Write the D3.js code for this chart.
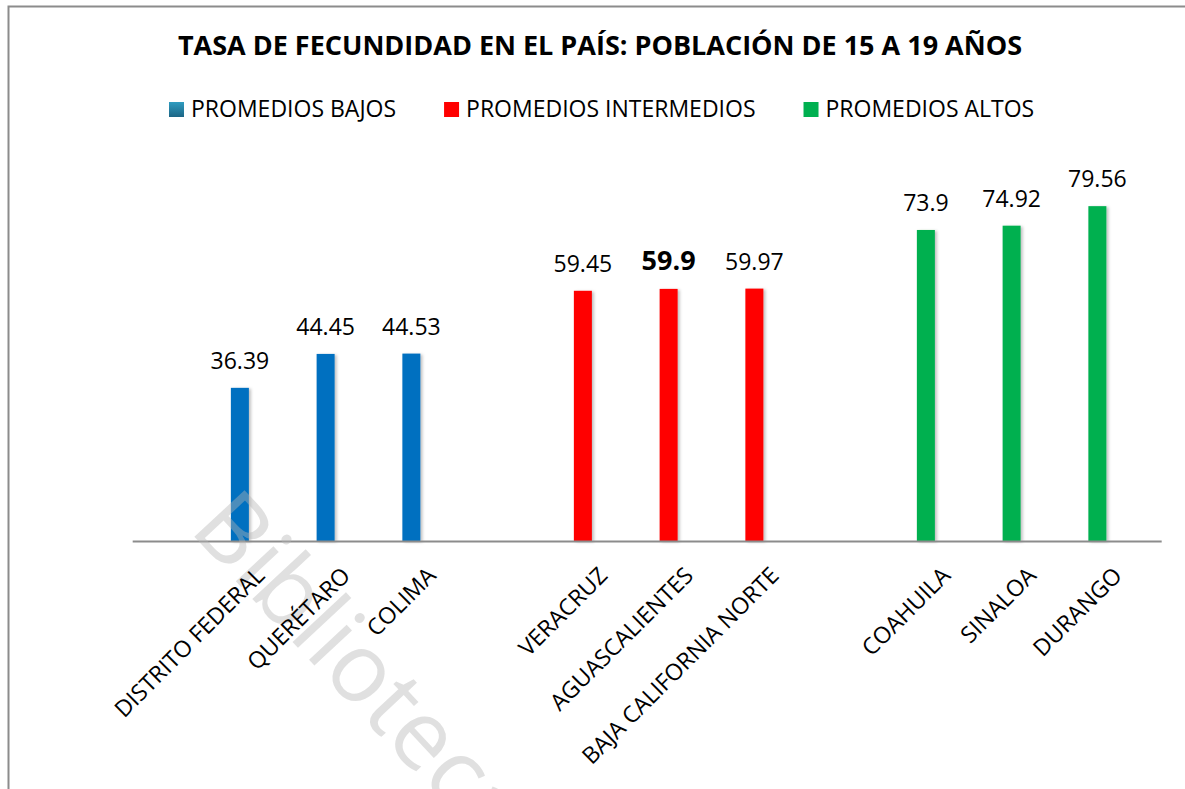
<!DOCTYPE html>
<html>
<head>
<meta charset="utf-8">
<script src="https://cdn.jsdelivr.net/npm/d3@7"></script>
<style>
    body { margin: 0; background: #fff; }
    svg { display: block; font-family: "Open Sans", sans-serif; }
</style>
</head>
<body>
<svg id="chart"></svg>
<script>
// Datos del gráfico
const estados = ["DISTRITO FEDERAL", "QUERÉTARO", "COLIMA",
                 "VERACRUZ", "AGUASCALIENTES", "BAJA CALIFORNIA NORTE",
                 "COAHUILA", "SINALOA", "DURANGO"];
const tasas = [36.39, 44.45, 44.53, 59.45, 59.9, 59.97, 73.9, 74.92, 79.56];
const grupoDeEstado = [0, 0, 0, 1, 1, 1, 2, 2, 2];
const grupos = ["PROMEDIOS BAJOS", "PROMEDIOS INTERMEDIOS", "PROMEDIOS ALTOS"];
const coloresGrupo = ["#0070C0", "#FF0000", "#00B050"];
const destacado = "AGUASCALIENTES";
const titulo = "TASA DE FECUNDIDAD EN EL PAÍS: POBLACIÓN DE 15 A 19 AÑOS";

document.addEventListener("DOMContentLoaded", () => {
    const width = 1185, height = 789;

    const svg = d3.select("#chart")
        .attr("width", width)
        .attr("height", height);

    svg.append("rect")
        .attr("width", width)
        .attr("height", height)
        .attr("fill", "#fff");

    const defs = svg.append("defs");

    // Sombra suave de las barras
    const sombra = defs.append("filter")
        .attr("id", "sombra")
        .attr("x", "-50%").attr("y", "-10%")
        .attr("width", "200%").attr("height", "120%");
    sombra.append("feDropShadow")
        .attr("dx", 2).attr("dy", 1)
        .attr("stdDeviation", 1.5)
        .attr("flood-color", "#000")
        .attr("flood-opacity", 0.25);

    // Degradado del cuadro azul de la leyenda
    const grad = defs.append("linearGradient")
        .attr("id", "gradBajo")
        .attr("x1", 0).attr("y1", 0).attr("x2", 0).attr("y2", 1);
    grad.append("stop").attr("offset", "0%").attr("stop-color", "#2f9cc0");
    grad.append("stop").attr("offset", "100%").attr("stop-color", "#1c6585");

    // Marco del gráfico
    svg.append("path")
        .attr("d", `M8.5,${height} V6.5 H${width}`)
        .attr("fill", "none")
        .attr("stroke", "#8c8c8c")
        .attr("stroke-width", 2);

    // Título
    svg.append("text")
        .attr("x", 600)
        .attr("y", 55)
        .attr("text-anchor", "middle")
        .style("font-size", "27px")
        .style("font-weight", "bold")
        .attr("fill", "#000")
        .text(titulo);

    // Leyenda
    const leyenda = svg.append("g").attr("transform", "translate(169, 0)");
    let lx = 0;
    grupos.forEach((g, i) => {
        leyenda.append("rect")
            .attr("x", lx)
            .attr("y", 102)
            .attr("width", 15)
            .attr("height", 15)
            .attr("fill", i === 0 ? "url(#gradBajo)" : coloresGrupo[i]);
        const t = leyenda.append("text")
            .attr("x", lx + 22)
            .attr("y", 117)
            .style("font-size", "23px")
            .attr("fill", "#000")
            .text(g);
        lx += 22 + t.node().getComputedTextLength() + 48;
    });

    // Ranuras: un espacio vacío entre cada grupo
    const ranuras = [];
    estados.forEach((e, i) => {
        if (i > 0 && grupoDeEstado[i] !== grupoDeEstado[i - 1]) ranuras.push("hueco" + i);
        ranuras.push(e);
    });

    const x = d3.scaleBand()
        .domain(ranuras)
        .range([197, 1140.25])
        .paddingInner(0.79)
        .paddingOuter(0.395);

    const y = d3.scaleLinear()
        .domain([0, 80])
        .range([541, 204.3]);

    const datos = estados.map((e, i) => ({ estado: e, valor: tasas[i], grupo: grupoDeEstado[i] }));

    // Barras
    svg.append("g")
        .selectAll("rect")
        .data(datos)
        .enter()
        .append("rect")
        .attr("x", d => x(d.estado))
        .attr("y", d => y(d.valor))
        .attr("width", x.bandwidth())
        .attr("height", d => y(0) - y(d.valor))
        .attr("fill", d => coloresGrupo[d.grupo])
        .attr("filter", "url(#sombra)");

    // Línea del eje
    const paso = x.step();
    svg.append("line")
        .attr("x1", x.range()[0] - 0.75 * paso)
        .attr("x2", x.range()[1] + 0.25 * paso)
        .attr("y1", y(0) + 0.5)
        .attr("y2", y(0) + 0.5)
        .attr("stroke", "#8c8c8c")
        .attr("stroke-width", 2);

    // Marca de agua
    svg.append("text")
        .attr("transform", "translate(188, 530) rotate(47)")
        .style("font-size", "96px")
        .attr("fill", "#b4b4b4")
        .attr("fill-opacity", 0.42)
        .text("Biblioteca");

    // Etiquetas de valores
    svg.append("g")
        .selectAll("text")
        .data(datos)
        .enter()
        .append("text")
        .attr("x", d => x(d.estado) + x.bandwidth() / 2)
        .attr("y", d => y(d.valor) - 19)
        .attr("text-anchor", "middle")
        .style("font-size", d => d.estado === destacado ? "27px" : "23px")
        .style("font-weight", d => d.estado === destacado ? "bold" : "normal")
        .attr("fill", "#000")
        .text(d => d.valor);

    // Etiquetas de categorías giradas
    svg.append("g")
        .selectAll("text")
        .data(datos)
        .enter()
        .append("text")
        .attr("transform", d => `translate(${x(d.estado) + x.bandwidth() / 2 + 26}, ${y(0) + 36}) rotate(-45)`)
        .attr("text-anchor", "end")
        .style("font-size", "23px")
        .attr("fill", "#000")
        .text(d => d.estado);
});
</script>
</body>
</html>
